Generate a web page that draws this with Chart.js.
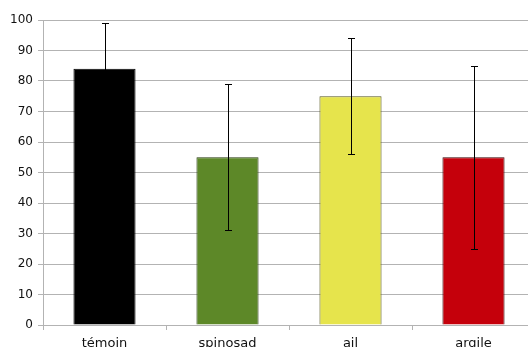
<!DOCTYPE html>
<html>
<head>
<meta charset="utf-8">
<script src="https://cdn.jsdelivr.net/npm/chart.js@4"></script>
<style>
  html, body { margin: 0; padding: 0; background: #fff; overflow: hidden; }
  #wrap { width: 528px; height: 347px; overflow: hidden; }
</style>
</head>
<body>
<div id="wrap"><canvas id="chart" width="536" height="355"></canvas></div>
<script>
const categories = ['témoin', 'spinosad', 'ail', 'argile'];
const means = [84, 55, 75, 55];
const errors = [15, 24, 19, 30];
const fillColors = ['#000000', '#5d8828', '#e6e44c', '#c5000b'];
const borderColors = ['#000000', '#243a0c', '#55551c', '#3a0003'];
const yTicks = [0, 10, 20, 30, 40, 50, 60, 70, 80, 90, 100];

const GRID_COLOR = '#b3b3b3';

// draws the +/- error bars on top of each bar
const errorBars = {
  id: 'errorBars',
  afterDatasetsDraw(chart) {
    const ctx = chart.ctx;
    const y = chart.scales.y;
    const meta = chart.getDatasetMeta(0);
    ctx.save();
    ctx.strokeStyle = '#000';
    ctx.lineWidth = 1;
    meta.data.forEach((bar, i) => {
      const x = Math.round(bar.x) + 0.5;
      const top = Math.round(y.getPixelForValue(means[i] + errors[i])) + 0.5;
      const bottom = Math.round(y.getPixelForValue(means[i] - errors[i])) + 0.5;
      ctx.beginPath();
      ctx.moveTo(x, top);
      ctx.lineTo(x, bottom);
      ctx.moveTo(x - 3.5, top);
      ctx.lineTo(x + 3.5, top);
      ctx.moveTo(x - 3.5, bottom);
      ctx.lineTo(x + 3.5, bottom);
      ctx.stroke();
    });
    ctx.restore();
  }
};

new Chart(document.getElementById('chart'), {
  type: 'bar',
  data: {
    labels: categories,
    datasets: [{
      data: means,
      backgroundColor: fillColors,
      borderColor: borderColors,
      borderWidth: 1,
      barPercentage: 0.505,
      categoryPercentage: 1.0
    }]
  },
  options: {
    responsive: false,
    animation: false,
    layout: { padding: { top: 20, right: 1, left: 0, bottom: 0 } },
    plugins: {
      legend: { display: false },
      tooltip: { enabled: false }
    },
    scales: {
      x: {
        grid: {
          offset: true,
          drawOnChartArea: false,
          drawTicks: true,
          tickLength: 5,
          color: GRID_COLOR
        },
        border: { color: GRID_COLOR },
        ticks: {
          color: '#111',
          padding: 6,
          font: { family: 'DejaVu Sans', size: 13 }
        },
        afterFit(scale) { scale.height = 30; }
      },
      y: {
        min: 0,
        max: 100,
        afterBuildTicks(scale) { scale.ticks = yTicks.map(v => ({ value: v })); },
        grid: {
          color: GRID_COLOR,
          tickLength: 5
        },
        border: { color: GRID_COLOR },
        ticks: {
          color: '#111',
          padding: 5,
          font: { family: 'DejaVu Sans', size: 12 }
        },
        afterFit(scale) { scale.width = 43; }
      }
    }
  },
  plugins: [errorBars]
});
</script>
</body>
</html>
